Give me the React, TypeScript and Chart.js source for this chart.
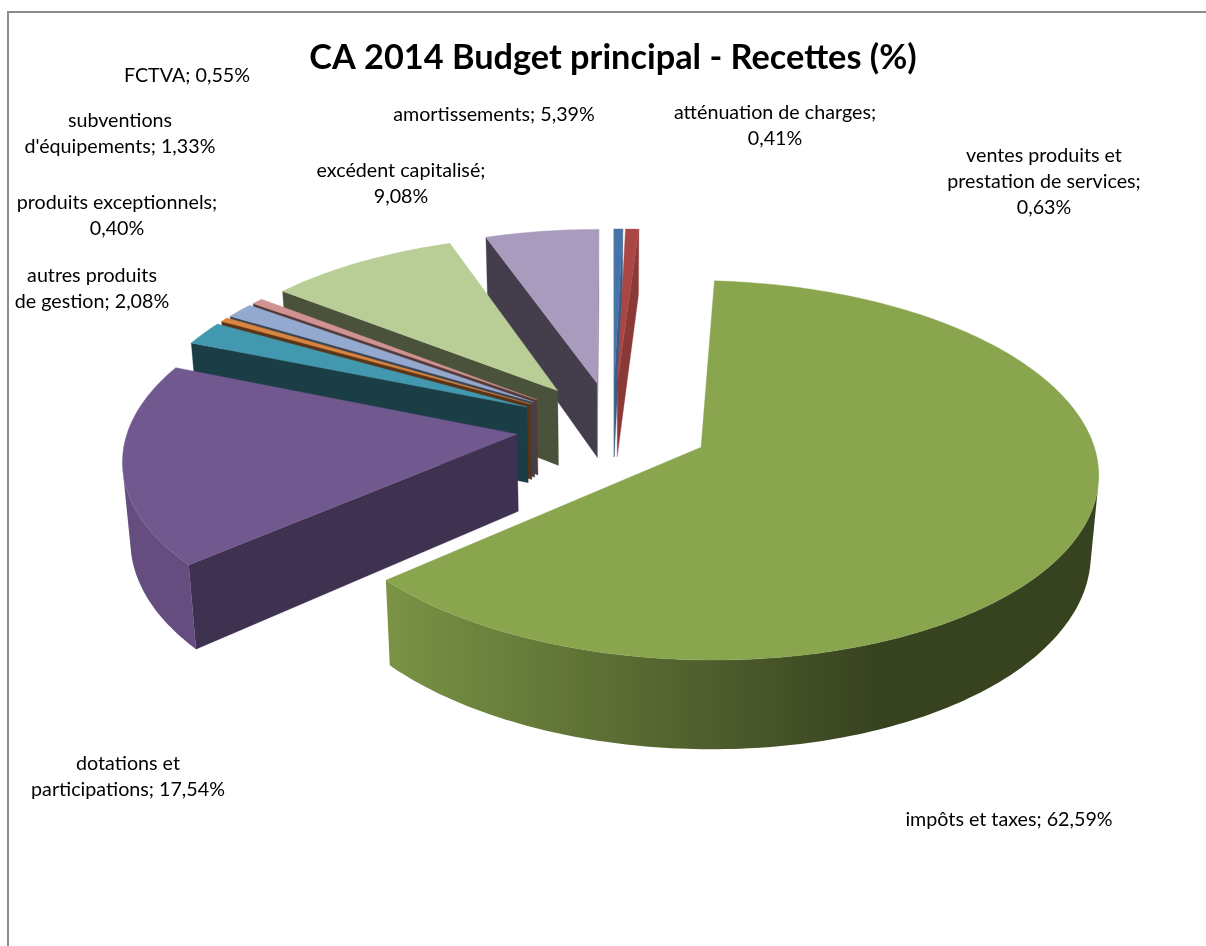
import React, { useEffect, useRef } from "react";
import { Chart, registerables } from "chart.js";

Chart.register(...registerables);

const categories = [
  "atténuation de charges",
  "ventes produits et prestation de services",
  "impôts et taxes",
  "dotations et participations",
  "autres produits de gestion",
  "produits exceptionnels",
  "subventions d'équipements",
  "FCTVA",
  "excédent capitalisé",
  "amortissements",
];
const values = [0.41, 0.63, 62.59, 17.54, 2.08, 0.4, 1.33, 0.55, 9.08, 5.39];
const colors = ["#4572A7", "#AA4643", "#89A54E", "#71588F", "#4198AF", "#DB843D", "#93A9CF", "#D19392", "#B9CD96", "#A99BBD"];
const titleText = "CA 2014 Budget principal - Recettes (%)";

// word counts after which a label wraps, and label layout
const labelBreaks = [[3], [3, 6], [], [2], [2], [2], [1], [], [2], []];
const labelCenterX = [775, 1044, 1009, 128, 92, 117, 120, 187, 401, 494];
const labelTopY = [112.5, 155.5, 819.5, 763.5, 275.5, 202.5, 120.5, 75.5, 170.5, 114.5];
const drawOrder = [9, 0, 1, 8, 7, 6, 5, 4, 3, 2];

// projection of the tilted, exploded pie
const EXPLODE = 0.25;
const CX = 613, CY = 426.7, A = 388, B = 182, P = 0.12, Q = 0.016, C0 = 78, C1 = 4;
const FONT = "Lato";
const LABEL_SIZE = 19.7;

type Pt = [number, number];
const project = (u: number, v: number, z: number): Pt => {
  const w = 1 - P * v + Q * z;
  return [CX + (A * u) / w, CY + (B * v + (C0 + C1 * v) * z) / w];
};

const shade = (hex: string, f: number) => {
  const n = parseInt(hex.slice(1), 16);
  const c = [(n >> 16) & 255, (n >> 8) & 255, n & 255].map((x) => Math.round(x * f));
  return `rgb(${c[0]},${c[1]},${c[2]})`;
};

const interp = (x: number, pts: number[][]) => {
  if (x <= pts[0][0]) return pts[0][1];
  for (let i = 1; i < pts.length; i++) {
    if (x <= pts[i][0]) {
      const t = (x - pts[i - 1][0]) / (pts[i][0] - pts[i - 1][0]);
      return pts[i - 1][1] + t * (pts[i][1] - pts[i - 1][1]);
    }
  }
  return pts[pts.length - 1][1];
};

const RIM_LIGHT_X = 385, RIM_DARK_X = 880, RIM_LIGHT = 0.89, RIM_DARK = 0.4;
const radialFactor = (normalDeg: number) => interp(normalDeg, [[94, 0.82], [139, 0.56], [180, 0.4], [360, 0.4]]);

const area = (p: Pt[]) => {
  let s = 0;
  for (let i = 0; i < p.length; i++) {
    const a = p[i], b = p[(i + 1) % p.length];
    s += a[0] * b[1] - b[0] * a[1];
  }
  return s / 2;
};

const fillPoly = (ctx: CanvasRenderingContext2D, p: Pt[], fill: any, seam = 0) => {
  ctx.beginPath();
  p.forEach((q, i) => (i ? ctx.lineTo(q[0], q[1]) : ctx.moveTo(q[0], q[1])));
  ctx.closePath();
  ctx.fillStyle = fill;
  ctx.fill();
  if (seam > 0) {
    ctx.strokeStyle = fill;
    ctx.lineWidth = seam;
    ctx.lineJoin = "round";
    ctx.stroke();
  }
};

const pie3d = {
  id: "pie3d",
  beforeDraw(chart: any) {
    const ctx = chart.ctx;
    ctx.save();
    ctx.fillStyle = "#fff";
    ctx.fillRect(0, 0, chart.width, chart.height);
    ctx.strokeStyle = "#8c8c8c";
    ctx.lineWidth = 2;
    ctx.beginPath();
    ctx.moveTo(8, chart.height + 2);
    ctx.lineTo(8, 12);
    ctx.lineTo(chart.width + 2, 12);
    ctx.stroke();
    ctx.restore();
  },
  beforeDatasetsDraw(chart: any) {
    const ctx: CanvasRenderingContext2D = chart.ctx;
    const arcs = chart.getDatasetMeta(0).data;
    ctx.save();
    for (const i of drawOrder) {
      const arc = arcs[i];
      const { startAngle, endAngle } = arc.getProps(["startAngle", "endAngle"], true);
      const mid = (startAngle + endAngle) / 2;
      const ax = Math.cos(mid) * EXPLODE, ay = Math.sin(mid) * EXPLODE;
      const steps = Math.max(3, Math.ceil(((endAngle - startAngle) * 180) / Math.PI));
      const rim: number[][] = [];
      for (let s = 0; s <= steps; s++) {
        const a = startAngle + ((endAngle - startAngle) * s) / steps;
        rim.push([ax + Math.cos(a), ay + Math.sin(a)]);
      }
      const color = colors[i];
      const quad = (p: number[], q: number[]): Pt[] => [
        project(q[0], q[1], 0),
        project(p[0], p[1], 0),
        project(p[0], p[1], 1),
        project(q[0], q[1], 1),
      ];
      const toDeg = (a: number) => (((a * 180) / Math.PI + 90) % 360 + 360) % 360;
      const apex = [ax, ay];
      // radial walls
      const nStart = ((toDeg(startAngle) - 90) % 360 + 360) % 360;
      const nEnd = (toDeg(endAngle) + 90) % 360;
      const q1 = quad(apex, rim[0]);
      if (area(q1) > 0) fillPoly(ctx, q1, shade(color, radialFactor(nStart)), 0.3);
      const q2 = quad(rim[rim.length - 1], apex);
      if (area(q2) > 0) fillPoly(ctx, q2, shade(color, radialFactor(nEnd)), 0.3);
      // outer rim wall: one band per visible run, shaded along the screen x
      const rimFill = ctx.createLinearGradient(RIM_LIGHT_X, 0, RIM_DARK_X, 0);
      rimFill.addColorStop(0, shade(color, RIM_LIGHT));
      rimFill.addColorStop(1, shade(color, RIM_DARK));
      let runTop: Pt[] = [];
      let runBot: Pt[] = [];
      const flush = () => {
        if (runTop.length) fillPoly(ctx, [...runTop, ...runBot.reverse()], rimFill);
        runTop = [];
        runBot = [];
      };
      for (let s = 0; s < steps; s++) {
        const q = quad(rim[s], rim[s + 1]);
        if (area(q) > 0) {
          if (!runTop.length) {
            runTop.push(q[1]);
            runBot.push(q[2]);
          }
          runTop.push(q[0]);
          runBot.push(q[3]);
        } else flush();
      }
      flush();
      // top face
      const top: Pt[] = [project(ax, ay, 0), ...rim.map((r) => project(r[0], r[1], 0))];
      fillPoly(ctx, top, color, 0.4);
    }
    ctx.restore();
    return false;
  },
  afterDraw(chart: any) {
    const ctx: CanvasRenderingContext2D = chart.ctx;
    ctx.save();
    ctx.font = `${LABEL_SIZE}px ${FONT}`;
    ctx.fillStyle = "#000";
    ctx.textAlign = "center";
    ctx.textBaseline = "middle";
    categories.forEach((cat, i) => {
      const pct = values[i].toFixed(2).replace(".", ",") + "%";
      const words = `${cat}; ${pct}`.split(" ");
      const cuts = [0, ...labelBreaks[i], words.length];
      for (let l = 0; l + 1 < cuts.length; l++) {
        ctx.fillText(words.slice(cuts[l], cuts[l + 1]).join(" "), labelCenterX[i], labelTopY[i] + l * 26);
      }
    });
    ctx.restore();
  },
};

export default function App() {
  const ref = useRef<HTMLCanvasElement>(null);
  useEffect(() => {
    document.body.style.margin = "0";
    const chart = new Chart(ref.current!, {
      type: "pie",
      data: {
        labels: categories,
        datasets: [{ data: values, backgroundColor: colors, borderWidth: 0 }],
      },
      options: {
        animation: false,
        responsive: false,
        devicePixelRatio: 1,
        rotation: 0,
        layout: { padding: { left: 20, top: 37 } },
        plugins: {
          legend: { display: false },
          tooltip: { enabled: false },
          title: {
            display: true,
            text: titleText,
            color: "#000",
            font: { family: FONT, size: 34.3, weight: "bold" },
            padding: 0,
          },
        },
      },
      plugins: [pie3d],
    } as any);
    return () => chart.destroy();
  }, []);
  return <canvas ref={ref} width={1206} height={946} style={{ display: "block" }} />;
}
